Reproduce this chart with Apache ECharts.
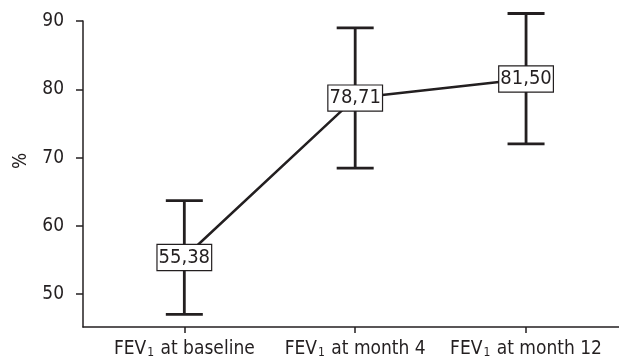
<!DOCTYPE html>
<html>
<head>
<meta charset="utf-8">
<script src="https://cdn.jsdelivr.net/npm/echarts@6/dist/echarts.min.js"></script>
<style>
  html, body { margin: 0; padding: 0; background: #fff; }
  #chart { width: 619px; height: 364px; }
</style>
</head>
<body>
<div id="chart"></div>
<script>
// FEV1 (% predicted) over time: mean with error bars
const timepoints = ['at baseline', 'at month 4', 'at month 12'];
const means = [55.38, 78.71, 81.50];
const lowerBounds = [47.05, 68.45, 72.0];
const upperBounds = [63.7, 89.0, 91.1];
const yTicks = [50, 60, 70, 80, 90];

const ink = '#231f20';
const font = "'Liberation Sans Narrow', 'DejaVu Sans Condensed', 'Arial Narrow', sans-serif";
const positions = timepoints.map((_, i) => i);

const chart = echarts.init(document.getElementById('chart'));

chart.setOption({
  animation: false,
  backgroundColor: '#fff',
  textStyle: { fontFamily: font, color: ink },
  grid: { left: 83, right: 0, top: 21, bottom: 37, containLabel: false },
  xAxis: {
    type: 'value',
    min: -0.593,
    max: 2.544,
    splitLine: { show: false },
    axisLine: { show: true, onZero: false, lineStyle: { color: ink, width: 1.5 } },
    axisTick: { show: true, length: 6, lineStyle: { color: ink, width: 1.5 }, customValues: positions },
    axisLabel: {
      margin: 13,
      customValues: positions,
      formatter: v => '{a|FEV}{s|1}{a| ' + timepoints[Math.round(v)] + '}',
      rich: {
        a: { fontFamily: font, fontSize: 19, color: ink },
        s: { fontFamily: font, fontSize: 12, color: ink, verticalAlign: 'bottom', padding: [0, 1, 0, 1] }
      }
    }
  },
  yAxis: {
    type: 'value',
    min: 45.2,
    max: 90,
    name: '%',
    nameLocation: 'middle',
    nameGap: 52,
    nameTextStyle: { fontFamily: font, fontSize: 19, color: ink, padding: [0, 0, 0, 26] },
    splitLine: { show: false },
    axisLine: { show: true, onZero: false, lineStyle: { color: ink, width: 1.5 } },
    axisTick: { show: true, length: 7, lineStyle: { color: ink, width: 1.5 }, customValues: yTicks },
    axisLabel: { margin: 19, customValues: yTicks, fontFamily: font, fontSize: 19, color: ink }
  },
  series: [
    {
      // error bars with caps
      type: 'custom',
      clip: false,
      z: 2,
      data: positions.map(i => [i, lowerBounds[i], upperBounds[i]]),
      renderItem: function (params, api) {
        const lo = api.coord([api.value(0), api.value(1)]);
        const hi = api.coord([api.value(0), api.value(2)]);
        const half = 18.5;
        const style = { stroke: ink, lineWidth: 2.8, fill: 'none' };
        return {
          type: 'group',
          children: [
            { type: 'line', shape: { x1: hi[0], y1: hi[1], x2: lo[0], y2: lo[1] }, style: style },
            { type: 'line', shape: { x1: hi[0] - half, y1: hi[1], x2: hi[0] + half, y2: hi[1] }, style: style },
            { type: 'line', shape: { x1: lo[0] - half, y1: lo[1], x2: lo[0] + half, y2: lo[1] }, style: style }
          ]
        };
      }
    },
    {
      // connecting line between the means
      type: 'line',
      z: 3,
      symbol: 'none',
      lineStyle: { color: ink, width: 2.5 },
      data: positions.map(i => [i, means[i]])
    },
    {
      // boxed value labels at the means
      type: 'scatter',
      z: 4,
      symbolSize: 0.1,
      itemStyle: { color: ink, opacity: 1 },
      emphasis: { disabled: true },
      data: positions.map(i => [i, means[i]]),
      label: {
        show: true,
        position: 'inside',
        formatter: p => p.value[1].toFixed(2).replace('.', ','),
        fontFamily: font,
        fontSize: 20,
        color: ink,
        backgroundColor: '#fff',
        borderColor: ink,
        borderWidth: 1.2,
        padding: [3, 1, 2, 1]
      }
    }
  ]
});
</script>
</body>
</html>
